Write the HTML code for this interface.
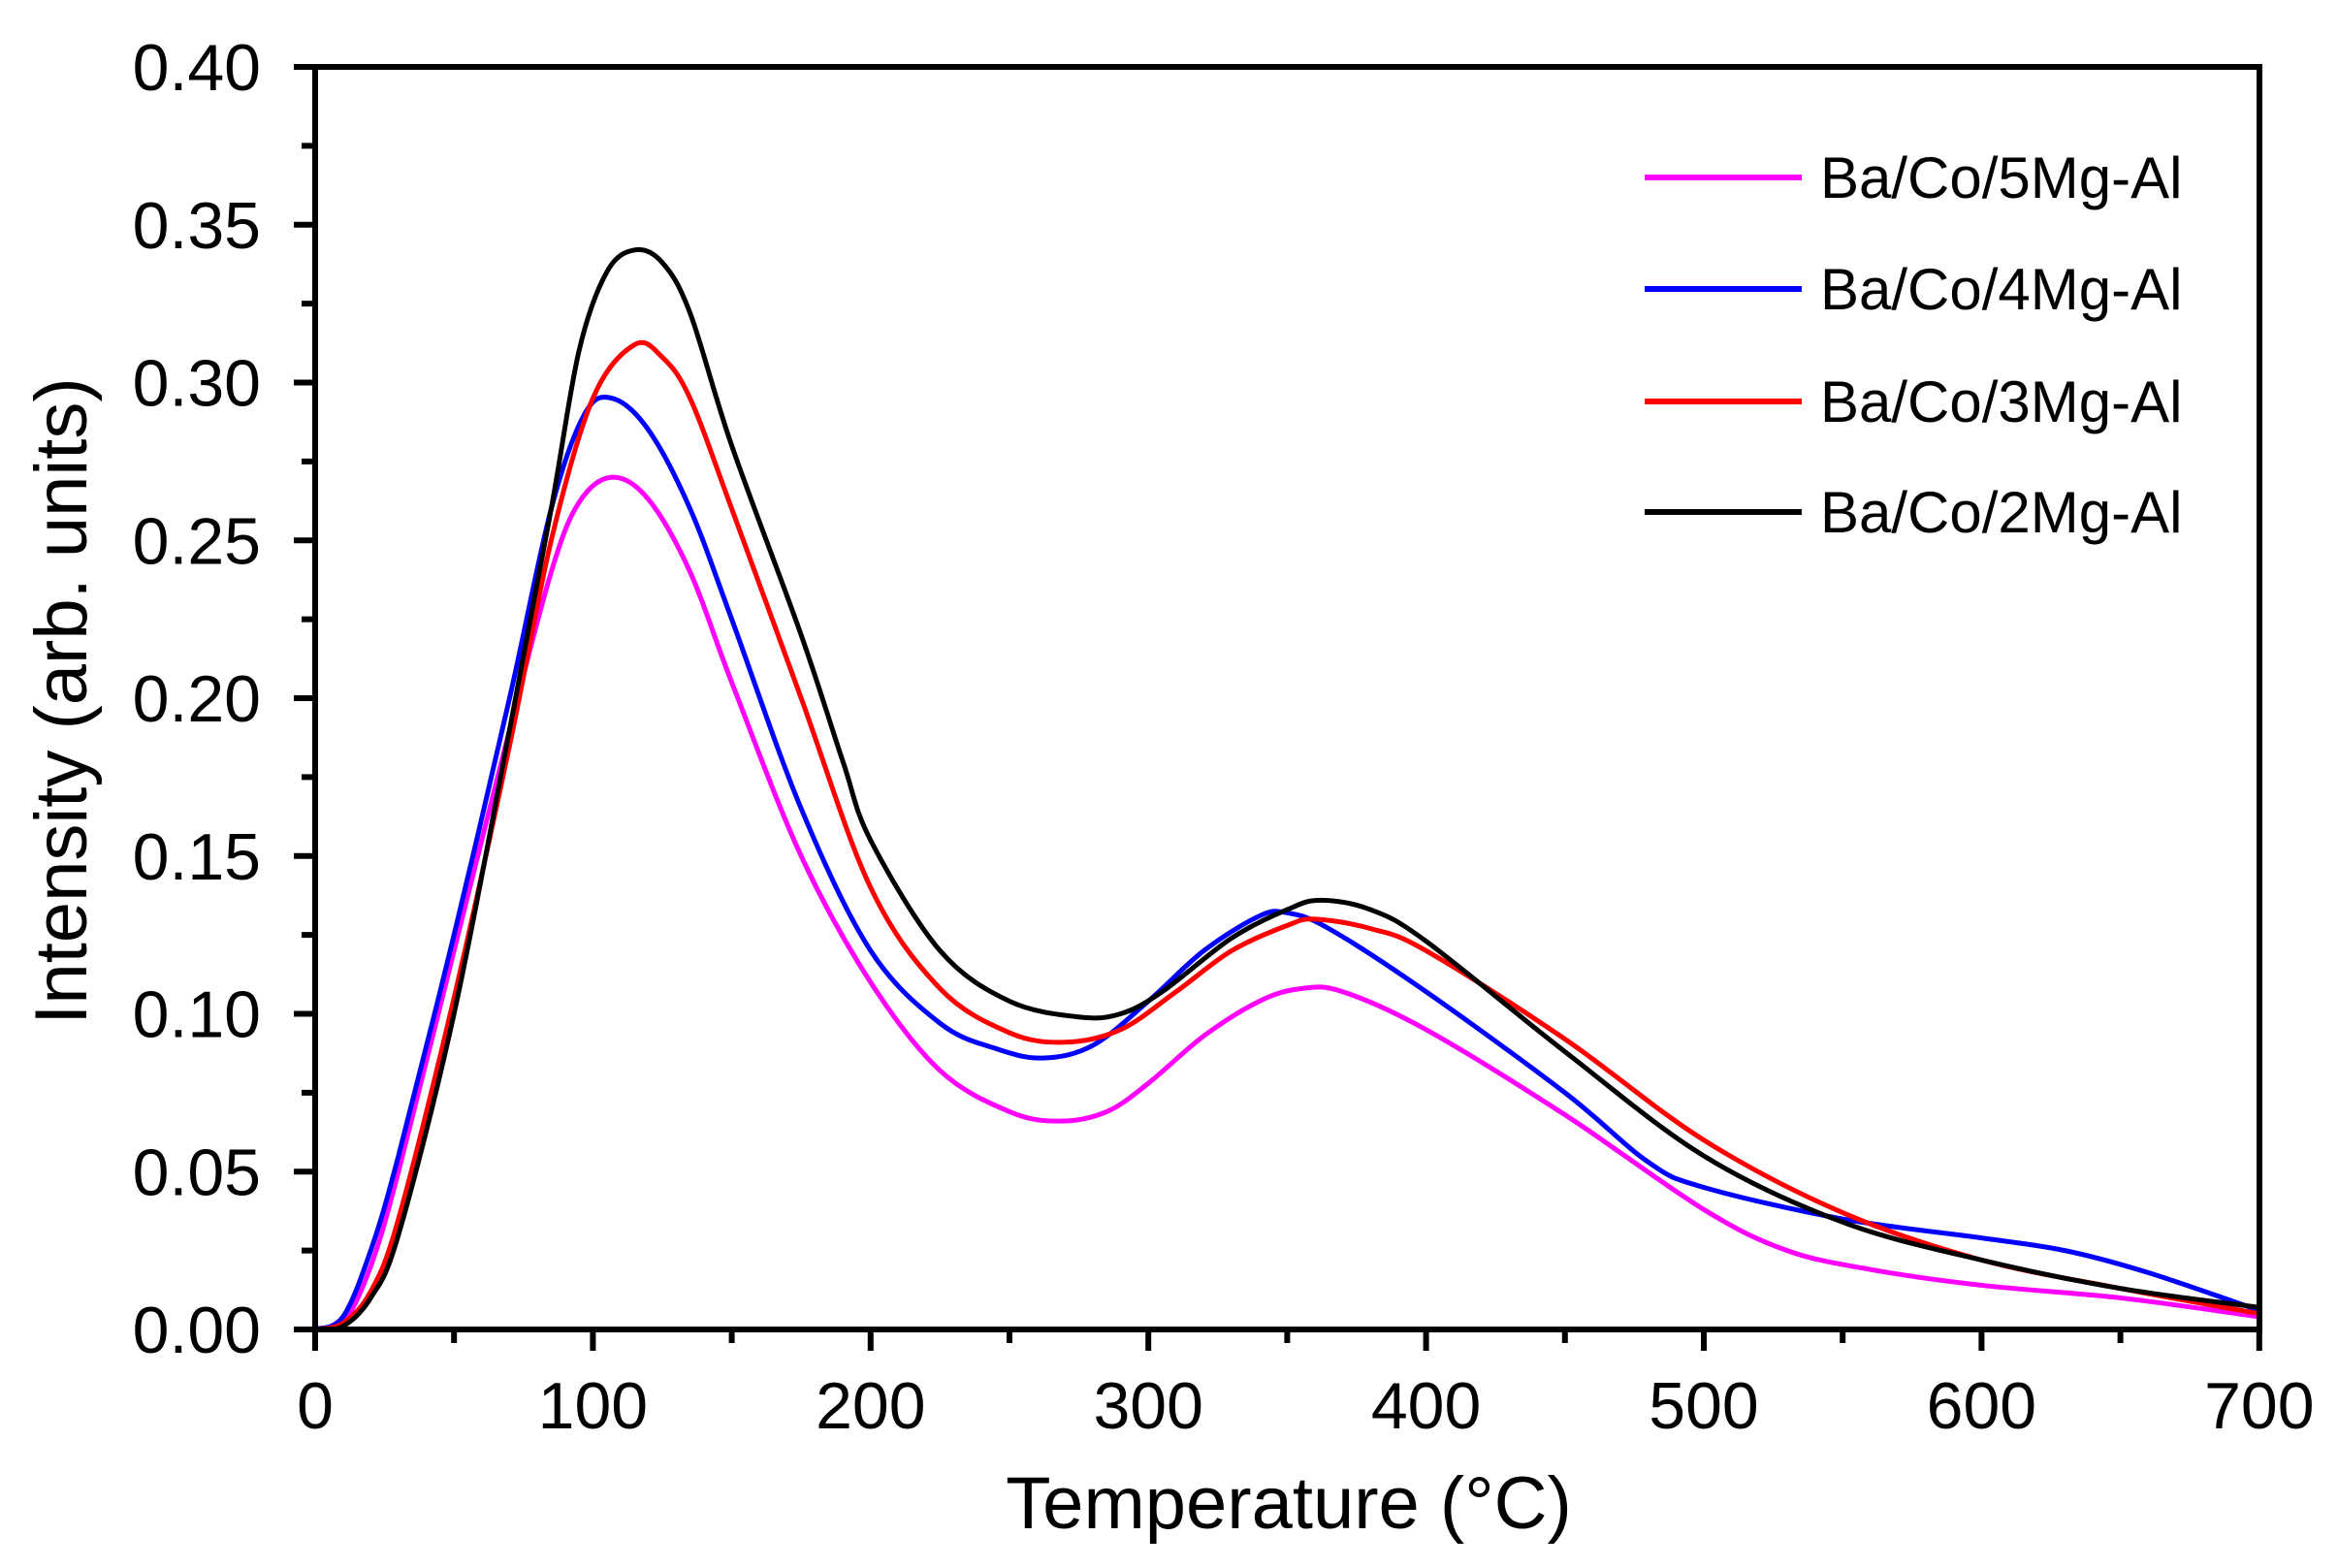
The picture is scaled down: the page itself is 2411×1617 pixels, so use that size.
<!DOCTYPE html>
<html><head><meta charset="utf-8"><style>
html,body{margin:0;padding:0;background:#fff;}
svg{display:block;}
text{font-family:"Liberation Sans",Arial,sans-serif;fill:#000;}
</style></head><body>
<svg id="s" width="2411" height="1617" viewBox="0 0 2411 1617" xmlns="http://www.w3.org/2000/svg">
<g id="curves" fill="none" stroke-width="5" stroke-linejoin="round" stroke-linecap="round"></g>
<g id="ax" stroke="#000" stroke-width="6" fill="none">
<rect x="325" y="69" width="2005" height="1302"/>
</g>
<g id="ticks" stroke="#000" stroke-width="6"></g>
<g id="labels" font-size="68"></g>
<text x="1329" y="1576" font-size="76" text-anchor="middle">Temperature (°C)</text>
<text transform="translate(89,723) rotate(-90)" font-size="76" text-anchor="middle">Intensity (arb. units)</text>
<g stroke-width="6">
<line x1="1696" y1="183" x2="1858" y2="183" stroke="#ff00ff"/>
<line x1="1696" y1="298" x2="1858" y2="298" stroke="#0000ff"/>
<line x1="1696" y1="414" x2="1858" y2="414" stroke="#ff0000"/>
<line x1="1696" y1="528" x2="1858" y2="528" stroke="#000"/>
</g>
<g font-size="60">
<text x="1877" y="204">Ba/Co/5Mg-Al</text>
<text x="1877" y="319">Ba/Co/4Mg-Al</text>
<text x="1877" y="435">Ba/Co/3Mg-Al</text>
<text x="1877" y="549">Ba/Co/2Mg-Al</text>
</g>
</svg>
<script>
var NS="http://www.w3.org/2000/svg";
function X(t){return 325+t*2.864;}
function Y(i){return 1371-i*3255;}
var tk=document.getElementById("ticks"),lb=document.getElementById("labels");
function line(x1,y1,x2,y2){var l=document.createElementNS(NS,"line");l.setAttribute("x1",x1);l.setAttribute("y1",y1);l.setAttribute("x2",x2);l.setAttribute("y2",y2);tk.appendChild(l);}
function txt(x,y,s,a){var t=document.createElementNS(NS,"text");t.setAttribute("x",x);t.setAttribute("y",y);t.setAttribute("text-anchor",a);t.textContent=s;lb.appendChild(t);}
for(var k=0;k<=16;k++){var v=k*0.025,y=Y(v);if(k%2==0){line(303,y,325,y);txt(269,y+24,v.toFixed(2),"end");}else line(311,y,325,y);}
for(var k=0;k<=14;k++){var t=k*50,x=X(t);if(k%2==0){line(x,1371,x,1393);txt(x,1473,String(t),"middle");}else line(x,1371,x,1385);}
var D={
"#ff00ff":[[0,0],[10,0.002],[20,0.02],[30,0.05],[50,0.12],[70,0.19],[85,0.24],[95,0.262],[107,0.27],[120,0.263],[135,0.24],[150,0.205],[175,0.15],[200,0.11],[225,0.082],[250,0.069],[268,0.066],[285,0.069],[300,0.078],[320,0.093],[340,0.104],[355,0.108],[370,0.107],[400,0.095],[450,0.068],[500,0.038],[530,0.025],[560,0.019],[600,0.014],[650,0.01],[700,0.004]],
"#0000ff":[[0,0],[10,0.004],[20,0.025],[30,0.055],[50,0.125],[70,0.2],[85,0.26],[97,0.29],[107,0.295],[120,0.285],[135,0.26],[150,0.225],[175,0.165],[200,0.12],[225,0.097],[245,0.089],[262,0.086],[280,0.09],[300,0.104],[320,0.12],[340,0.131],[350,0.132],[365,0.127],[400,0.107],[450,0.075],[480,0.053],[500,0.045],[550,0.035],[600,0.029],[630,0.025],[660,0.018],[700,0.006]],
"#ff0000":[[0,0],[10,0.002],[20,0.012],[30,0.035],[50,0.105],[70,0.185],[85,0.25],[100,0.295],[115,0.312],[125,0.308],[135,0.295],[150,0.26],[175,0.2],[200,0.14],[225,0.108],[250,0.094],[270,0.091],[290,0.095],[310,0.107],[330,0.12],[350,0.128],[360,0.13],[380,0.127],[400,0.12],[450,0.092],[500,0.06],[550,0.037],[600,0.022],[650,0.013],[700,0.005]],
"#000000":[[0,0],[10,0.001],[20,0.01],[30,0.03],[50,0.1],[70,0.19],[85,0.26],[95,0.31],[105,0.335],[115,0.342],[125,0.338],[135,0.322],[150,0.28],[175,0.22],[190,0.18],[200,0.155],[225,0.12],[250,0.104],[275,0.099],[290,0.1],[305,0.107],[330,0.124],[350,0.133],[362,0.136],[380,0.133],[400,0.123],[450,0.088],[500,0.055],[550,0.034],[600,0.022],[650,0.013],[700,0.007]]};
var g=document.getElementById("curves");
for(var c in D){var p=D[c].map(function(a){return [X(a[0]),Y(a[1])];});
var d="M"+p[0][0]+","+p[0][1];
for(var i=0;i<p.length-1;i++){var p0=p[Math.max(i-1,0)],p1=p[i],p2=p[i+1],p3=p[Math.min(i+2,p.length-1)];
d+=" C"+(p1[0]+(p2[0]-p0[0])/6)+","+(p1[1]+(p2[1]-p0[1])/6)+" "+(p2[0]-(p3[0]-p1[0])/6)+","+(p2[1]-(p3[1]-p1[1])/6)+" "+p2[0]+","+p2[1];}
var e=document.createElementNS(NS,"path");e.setAttribute("d",d);e.setAttribute("stroke",c);g.appendChild(e);}
</script>
</body></html>
